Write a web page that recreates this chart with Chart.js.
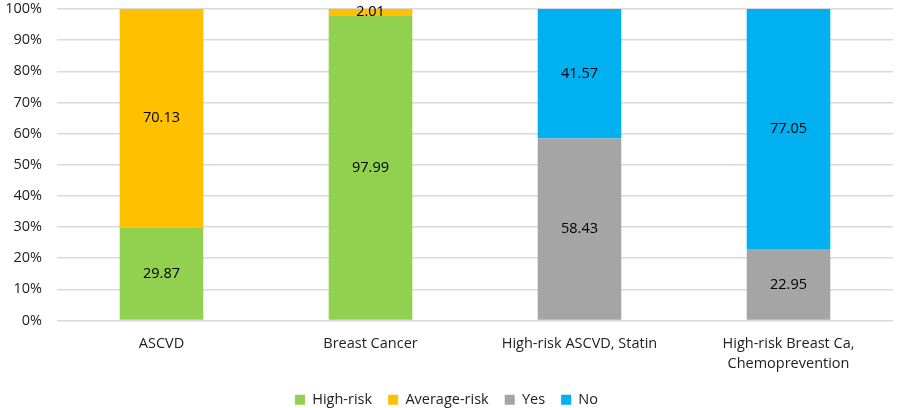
<!DOCTYPE html>
<html>
<head>
<meta charset="utf-8">
<script src="https://cdn.jsdelivr.net/npm/chart.js@4.4.0/dist/chart.umd.min.js"></script>
<style>
  html, body { margin: 0; padding: 0; background: #fff; }
  #wrap { width: 897px; height: 408px; }
</style>
</head>
<body>
<div id="wrap"><canvas id="c"></canvas></div>
<script>
const categories = ['ASCVD', 'Breast Cancer', 'High-risk ASCVD, Statin', ['High-risk Breast Ca,', 'Chemoprevention']];
const highRisk = [29.87, 97.99, null, null];
const averageRisk = [70.13, 2.01, null, null];
const yes = [null, null, 58.43, 22.95];
const no = [null, null, 41.57, 77.05];
const yTicks = [0, 10, 20, 30, 40, 50, 60, 70, 80, 90, 100];

const FONT = '"Open Sans", "Liberation Sans", sans-serif';
const SIZE = 14.5;

// draw values in the middle of each stacked segment
const barLabels = {
  id: 'barLabels',
  afterDatasetsDraw(chart) {
    const ctx = chart.ctx;
    ctx.save();
    ctx.font = SIZE + 'px ' + FONT;
    ctx.fillStyle = '#000';
    ctx.textAlign = 'center';
    ctx.textBaseline = 'middle';
    chart.data.datasets.forEach((ds, i) => {
      const meta = chart.getDatasetMeta(i);
      meta.data.forEach((bar, j) => {
        const v = ds.data[j];
        if (v == null) return;
        const yMid = (bar.y + bar.base) / 2;
        ctx.fillText(v.toFixed(2), bar.x, yMid);
      });
    });
    ctx.restore();
  }
};

// keep legend spacing but sit it lower, like the original
const lowLegend = {
  id: 'lowLegend',
  beforeLayout(chart) {
    const lg = chart.legend;
    if (!lg || lg._lowered) return;
    const fit = lg.fit;
    lg.fit = function () { fit.call(this); this.height -= 9; };
    lg._lowered = true;
  }
};

new Chart(document.getElementById('c'), {
  type: 'bar',
  data: {
    labels: categories,
    datasets: [
      { label: 'High-risk', data: highRisk, backgroundColor: '#92D050' },
      { label: 'Average-risk', data: averageRisk, backgroundColor: '#FFC000' },
      { label: 'Yes', data: yes, backgroundColor: '#A5A5A5' },
      { label: 'No', data: no, backgroundColor: '#00B0F0' }
    ]
  },
  options: {
    responsive: true,
    maintainAspectRatio: false,
    animation: false,
    layout: { padding: { top: 9, right: 4, left: 0, bottom: 0 } },
    datasets: { bar: { categoryPercentage: 1, barPercentage: 0.4 } },
    plugins: {
      legend: {
        position: 'bottom',
        labels: {
          font: { family: FONT, size: SIZE },
          color: '#222',
          boxWidth: 10,
          boxHeight: 10,
          padding: 16
        }
      },
      tooltip: { enabled: false }
    },
    scales: {
      x: {
        stacked: true,
        grid: { display: false, drawTicks: false },
        border: { display: false },
        afterFit(axis) { axis.height = 56; },
        ticks: { font: { family: FONT, size: SIZE, lineHeight: 1.35 }, color: '#222', maxRotation: 0, padding: 14 }
      },
      y: {
        stacked: true,
        min: 0,
        max: 100,
        afterBuildTicks(axis) { axis.ticks = yTicks.map(v => ({ value: v })); },
        afterFit(axis) { axis.width = 57; axis.paddingTop = 0; axis.paddingBottom = 0; },
        grid: { color: '#d9d9d9', lineWidth: 1.5, drawTicks: false },
        border: { display: false },
        ticks: { font: { family: FONT, size: SIZE }, color: '#222', padding: 15, callback: v => v + '%' }
      }
    }
  },
  plugins: [barLabels, lowLegend]
});
</script>
</body>
</html>
